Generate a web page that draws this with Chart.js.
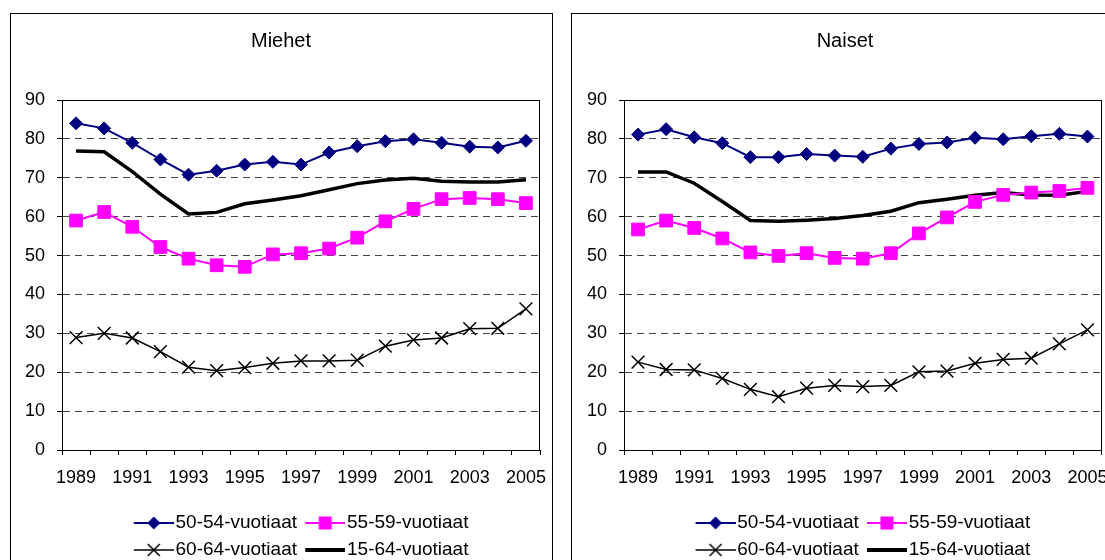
<!DOCTYPE html>
<html>
<head>
<meta charset="utf-8">
<script src="https://cdn.jsdelivr.net/npm/chart.js@4.4.0/dist/chart.umd.min.js"></script>
<style>
  html, body { margin: 0; padding: 0; background: #fff; overflow: hidden; }
  body { width: 1105px; height: 560px; position: relative; }
  .panel { position: absolute; top: 13px; height: 600px; border: 1px solid #000; background: #fff; }
  #leftPanel { left: 10px; width: 541px; }
  #rightPanel { left: 571px; width: 600px; }
  canvas { position: absolute; left: 0; top: 0; }
</style>
</head>
<body>
<div class="panel" id="leftPanel"><canvas id="miehetChart" width="540" height="560"></canvas></div>
<div class="panel" id="rightPanel"><canvas id="naisetChart" width="540" height="560"></canvas></div>
<script>
// Data
const years = ['1989', '1990', '1991', '1992', '1993', '1994', '1995', '1996', '1997',
  '1998', '1999', '2000', '2001', '2002', '2003', '2004', '2005'];
const seriesNames = ['50-54-vuotiaat', '55-59-vuotiaat', '60-64-vuotiaat', '15-64-vuotiaat'];

const miehet5054 = [84.0, 82.7, 79.0, 74.7, 70.8, 71.8, 73.4, 74.1, 73.4, 76.5, 78.1, 79.4, 79.9, 79.0, 78.0, 77.8, 79.5];
const miehet5559 = [59.0, 61.2, 57.4, 52.2, 49.2, 47.5, 47.1, 50.3, 50.6, 51.8, 54.6, 58.8, 62.0, 64.5, 64.8, 64.5, 63.5];
const miehet6064 = [28.9, 30.0, 28.8, 25.3, 21.3, 20.4, 21.2, 22.3, 22.9, 22.9, 23.1, 26.7, 28.3, 28.8, 31.2, 31.3, 36.3];
const miehet1564 = [76.9, 76.7, 71.6, 65.8, 60.7, 61.1, 63.3, 64.3, 65.4, 66.9, 68.5, 69.4, 69.9, 69.1, 68.9, 68.9, 69.5];

const naiset5054 = [81.1, 82.5, 80.4, 78.9, 75.3, 75.3, 76.1, 75.7, 75.4, 77.5, 78.7, 79.1, 80.3, 79.9, 80.7, 81.3, 80.6];
const naiset5559 = [56.7, 59.0, 57.1, 54.4, 50.8, 49.9, 50.6, 49.4, 49.2, 50.6, 55.7, 59.8, 63.8, 65.6, 66.2, 66.6, 67.4];
const naiset6064 = [22.6, 20.7, 20.6, 18.4, 15.6, 13.7, 15.9, 16.6, 16.3, 16.6, 20.1, 20.3, 22.3, 23.3, 23.6, 27.3, 30.9];
const naiset1564 = [71.5, 71.5, 68.6, 63.9, 59.0, 58.8, 59.1, 59.5, 60.3, 61.4, 63.6, 64.5, 65.5, 66.2, 65.6, 65.5, 66.5];

const FONT = "'Liberation Sans', Arial, sans-serif";

// small line+marker pictures for the legend (line sits in the right 40px)
function legendIcon(kind) {
  const c = document.createElement('canvas');
  c.width = 48; c.height = 20;
  const g = c.getContext('2d');
  const x0 = 8, x1 = 48, cx = 28, cy = 10;
  g.beginPath();
  g.moveTo(x0, cy); g.lineTo(x1, cy);
  g.strokeStyle = kind === 'square' ? '#FF00FF' : (kind === 'diamond' ? '#000080' : '#000');
  g.lineWidth = kind === 'thick' ? 4 : (kind === 'cross' ? 1.5 : 2);
  g.stroke();
  if (kind === 'diamond') {
    g.beginPath();
    g.moveTo(cx, cy - 6.5); g.lineTo(cx + 6.5, cy); g.lineTo(cx, cy + 6.5); g.lineTo(cx - 6.5, cy);
    g.closePath();
    g.fillStyle = '#000080'; g.fill();
  } else if (kind === 'square') {
    g.fillStyle = '#FF00FF';
    g.fillRect(cx - 6.5, cy - 6.5, 13, 13);
  } else if (kind === 'cross') {
    g.beginPath();
    g.moveTo(cx - 6, cy - 6); g.lineTo(cx + 6, cy + 6);
    g.moveTo(cx + 6, cy - 6); g.lineTo(cx - 6, cy + 6);
    g.stroke();
  }
  return c;
}
const legendIcons = [legendIcon('diamond'), legendIcon('square'), legendIcon('cross'), legendIcon('thick')];

const plotBorder = {
  id: 'plotBorder',
  beforeDatasetsDraw(chart) {
    const { ctx, chartArea: a } = chart;
    ctx.save();
    ctx.strokeStyle = '#000';
    ctx.lineWidth = 1;
    ctx.strokeRect(Math.round(a.left) + 0.5, Math.round(a.top) + 0.5, Math.round(a.width) - 1, Math.round(a.height));
    ctx.restore();
  }
};

function makeChart(id, title, d5054, d5559, d6064, d1564, padLeft, yWidth, padRight) {
  const ctx = document.getElementById(id).getContext('2d');
  return new Chart(ctx, {
    type: 'line',
    data: {
      labels: years,
      datasets: [
        {
          label: seriesNames[0], data: d5054,
          borderColor: '#000080', backgroundColor: '#000080', borderWidth: 2,
          pointStyle: 'rectRot', pointRadius: 6.5, pointBorderWidth: 1
        },
        {
          label: seriesNames[1], data: d5559,
          borderColor: '#FF00FF', backgroundColor: '#FF00FF', borderWidth: 2,
          pointStyle: 'rect', pointRadius: 9, pointBorderWidth: 1
        },
        {
          label: seriesNames[2], data: d6064,
          borderColor: '#000', backgroundColor: '#000', borderWidth: 1.5,
          pointStyle: 'crossRot', pointRadius: 9, pointBorderWidth: 1.5
        },
        {
          label: seriesNames[3], data: d1564,
          borderColor: '#000', backgroundColor: '#000', borderWidth: 3.5,
          pointRadius: 0
        }
      ]
    },
    options: {
      responsive: false,
      animation: false,
      layout: { padding: { left: padLeft, right: padRight, top: 0, bottom: 4.5 } },
      elements: { line: { tension: 0 } },
      plugins: {
        title: {
          display: true, text: title, color: '#000',
          font: { family: FONT, size: 20, weight: 'normal' },
          padding: { top: 15, bottom: 47 }
        },
        legend: {
          position: 'bottom',
          fullSize: false,
          labels: {
            color: '#000',
            font: { family: FONT, size: 19 },
            usePointStyle: true,
            pointStyleWidth: 32.5,
            padding: 8,
            generateLabels(chart) {
              const items = Chart.defaults.plugins.legend.labels.generateLabels(chart);
              return items.map((it, i) => Object.assign(it, { pointStyle: legendIcons[i] }));
            }
          }
        },
        tooltip: { enabled: false }
      },
      scales: {
        x: {
          offset: true,
          grid: { offset: true, drawOnChartArea: false, tickLength: 5, color: '#000', tickColor: '#000' },
          border: { color: '#000' },
          ticks: {
            autoSkip: false, maxRotation: 0, padding: 12, color: '#000',
            font: { family: FONT, size: 18 },
            callback: (v, i) => (i % 2 === 0 ? years[i] : '')
          },
          afterFit(s) {
            s.height = 55.5;
            s.paddingLeft = 0;
            s.paddingRight = 0;
          }
        },
        y: {
          min: 0, max: 90,
          ticks: { stepSize: 10, padding: 12, color: '#000', font: { family: FONT, size: 18 } },
          grid: {
            color: c => (c.tick && (c.tick.value === 0 || c.tick.value === 90)) ? 'rgba(0,0,0,0)' : '#444',
            tickColor: '#000', tickLength: 5
          },
          border: { color: '#000', dash: [7, 5] },
          afterFit(s) { s.width = yWidth; }
        }
      }
    },
    plugins: [plotBorder]
  });
}

makeChart('miehetChart', 'Miehet', miehet5054, miehet5559, miehet6064, miehet1564, 11, 40, 11);
makeChart('naisetChart', 'Naiset', naiset5054, naiset5559, naiset6064, naiset1564, 14, 38, 8);
</script>
</body>
</html>
